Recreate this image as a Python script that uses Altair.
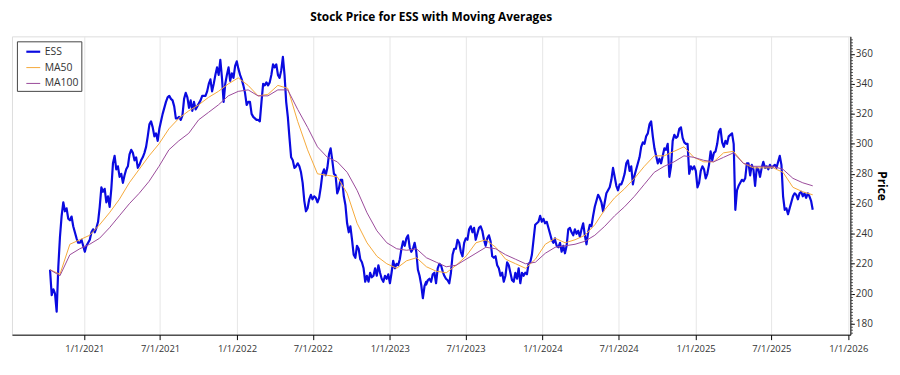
import altair as alt
import pandas as pd

# ---------------- data ----------------
# ESS closing price, in six consecutive stretches; each stretch is evenly spaced in time
ess_seg_dates = [
    ("2020-10-11", "2021-07-23"),
    ("2021-07-23", "2022-05-26"),
    ("2022-05-26", "2023-03-29"),
    ("2023-03-29", "2024-01-31"),
    ("2024-01-31", "2024-12-05"),
    ("2024-12-05", "2025-10-08"),
]
ess_a = [216, 199, 203, 200, 188, 218, 238, 252, 261, 255,
         257, 250, 249, 251.5, 245, 241, 237, 234, 234, 236,
         232, 228, 232, 234, 236, 241, 243, 241, 244, 248,
         258, 271, 268, 270, 261, 265, 258, 270, 287, 292,
         283, 285, 278, 280, 274, 279, 283, 285, 293, 296,
         294, 289, 291, 284, 286, 289, 291, 294, 298, 305,
         313, 315, 311, 305, 307, 302, 310, 315, 320, 324,
         328, 331, 332]
ess_b = [332, 330, 329, 325, 317, 317, 318, 316, 319, 330,
         334, 331, 324, 329, 322, 328, 323, 325, 327, 329,
         332, 332, 332, 335, 340, 343, 335, 340, 346, 351,
         346, 356, 344, 328, 340, 346, 351, 342, 347, 344,
         352, 355, 350, 346, 343, 339, 334, 326, 328, 328,
         320, 318, 317, 316, 316, 315, 328, 340, 339, 341,
         339, 341, 346, 353, 351, 353, 346, 344, 349, 358,
         346, 328, 318, 304, 291, 289, 284, 285, 287]
ess_c = [287, 285, 281, 274, 262, 255, 257, 263, 266, 263,
         265, 264, 261, 264, 271, 280, 283, 279, 284, 293,
         297, 289, 280, 279, 267, 270, 276, 276, 265, 259,
         247, 241, 245, 236, 226, 224, 232, 230, 223, 221,
         217, 208, 212, 208, 214, 211, 212, 217, 212, 219,
         214, 210, 208, 212, 210, 213, 207, 214, 222, 217,
         220, 219, 223, 230, 235, 232, 237, 239, 231, 228,
         230, 234, 228, 216, 212, 206, 197, 205, 208]
ess_d = [206, 209, 210, 208, 213, 214, 207, 217, 220, 219,
         215, 212, 210, 209, 207, 214, 226, 230, 230, 236,
         234, 228, 225, 234, 237, 236, 243, 245, 241, 244,
         236, 240, 244, 245, 242, 236, 232, 237, 239, 235,
         225, 224, 225, 219, 217, 212, 214, 208, 212, 221,
         219, 214, 209, 208, 214, 210, 217, 207, 214, 212,
         214, 213, 220, 221, 226, 236, 246, 247, 248, 252,
         248, 250, 247, 248, 244, 240, 236, 234, 237]
ess_e = [236, 232, 231, 234, 228, 232, 227, 232, 243, 244,
         241, 239, 243, 240, 242, 238, 243, 247, 239, 233,
         241, 246, 245, 252, 258, 262, 266, 264, 261, 255,
         261, 267, 269, 271, 276, 284, 278, 272, 269, 273,
         273, 276, 280, 287, 289, 282, 285, 273, 279, 283,
         287, 291, 298, 301, 300, 305, 307, 313, 315, 305,
         297, 292, 287, 290, 287, 292, 297, 296, 300, 278,
         285, 302, 306, 304, 305, 310, 311, 304, 301]
ess_f = [301, 300, 300, 280, 285, 283, 285, 282, 271, 274,
         282, 285, 283, 277, 280, 286, 295, 289, 294, 295,
         300, 308, 310, 301, 298, 302, 300, 305, 306, 307,
         300, 256, 269, 272, 274, 276, 275, 277, 287, 287,
         279, 286, 283, 272, 284, 283, 278, 284, 288, 284,
         285, 283, 286, 284, 285, 286, 284, 288, 292, 286,
         265, 256, 257, 253, 257, 261, 265, 267, 266, 263,
         267, 268, 265, 267, 264, 267, 265, 262, 256]
ess_segments = [ess_a, ess_b, ess_c, ess_d, ess_e, ess_f]

# moving averages, evenly spaced from first to last trading day shown
ma_start, ma_end = "2020-10-11", "2025-10-08"
ma50 = [216, 213, 233, 236, 239, 246, 254, 263, 274, 283,
        292, 300, 310, 317, 322, 326, 331, 335, 340, 344,
        339, 332, 333, 339, 337, 315, 296, 280, 279, 278,
        267, 247, 234, 225, 220, 217, 222, 224, 218, 215,
        214, 219, 225, 234, 236, 231, 223, 220, 217, 223,
        233, 237, 234, 236, 239, 246, 256, 264, 270, 277,
        285, 292, 292, 295, 298, 291, 288, 288, 294, 295,
        287, 284, 284, 284, 281, 271, 268, 266]
ma100 = [216, 212, 226, 230, 233, 237, 244, 252, 260, 267,
         275, 285, 296, 302, 307, 316, 321, 326, 332, 335,
         336, 332, 332, 336, 336, 323, 311, 298, 291, 288,
         281, 269, 254, 242, 234, 230, 229, 230, 224, 221,
         218, 219, 223, 227, 231, 230, 226, 223, 220, 221,
         227, 231, 232, 233, 235, 239, 245, 252, 258, 265,
         273, 281, 285, 288, 292, 291, 289, 288, 291, 294,
         287, 285, 285, 285, 283, 277, 274, 272]

series_names = ["ESS", "MA50", "MA100"]
series_colors = ["#0a0ae0", "#f5a93a", "#9a4a9a"]
series_widths = [2.2, 1, 1]

tick_dates = [(2021, 1), (2021, 7), (2022, 1), (2022, 7), (2023, 1), (2023, 7),
              (2024, 1), (2024, 7), (2025, 1), (2025, 7), (2026, 1)]
y_ticks = [180, 200, 220, 240, 260, 280, 300, 320, 340, 360]
y_minor_ticks = list(range(174, 372, 2))

# ---------------- build table ----------------
frames = []
for (s, e), vals in zip(ess_seg_dates, ess_segments):
    frames.append(pd.DataFrame({"Date": pd.date_range(s, e, periods=len(vals)),
                                "Price": vals, "Series": "ESS"}))
for name, vals in (("MA50", ma50), ("MA100", ma100)):
    frames.append(pd.DataFrame({"Date": pd.date_range(ma_start, ma_end, periods=len(vals)),
                                "Price": vals, "Series": name}))
df = pd.concat(frames, ignore_index=True)

FONT = "Segoe UI, Open Sans, sans-serif"

x_scale = alt.Scale(domain=[alt.DateTime(year=2020, month=7, date=12),
                            alt.DateTime(year=2026, month=1, date=6)])
y_domain = [172.7, 371.7]

x_axis = alt.Axis(
    values=[alt.DateTime(year=y, month=m, date=1) for y, m in tick_dates],
    format="%-m/%-d/%Y", title=None, grid=True, gridColor="#e6e6e6",
    tickSize=5, tickColor="#000", domainColor="#000", labelPadding=4,
    labelFontSize=9.5, labelColor="#333", labelFont=FONT, labelFlush=False,
)
y_axis = alt.Axis(
    orient="right", values=y_ticks, title="Price", grid=False,
    tickSize=4, tickColor="#000", domainColor="#000", labelPadding=1,
    labelFontSize=10, labelColor="#333", labelFont=FONT,
    titleFont=FONT, titleFontSize=12, titleFontWeight="bold", titleColor="#000",
    titleAngle=90, titlePadding=2,
)
y_minor_axis = alt.Axis(
    orient="right", values=y_minor_ticks, title=None, grid=False, labels=False,
    domain=False, tickSize=2, tickColor="#444",
)

legend_kw = dict(orient="none", legendX=5, legendY=5, title=None,
                 symbolType="stroke", symbolSize=196, strokeColor="#444",
                 fillColor="white", padding=2, symbolOffset=6, labelOffset=3,
                 rowPadding=3, labelFontSize=10.5, labelColor="#333", labelFont=FONT)

lines = alt.Chart(df).mark_line(strokeJoin="round").encode(
    x=alt.X("Date:T", axis=x_axis, scale=x_scale),
    y=alt.Y("Price:Q", axis=y_axis,
            scale=alt.Scale(domain=y_domain, nice=False, zero=False)),
    color=alt.Color("Series:N",
                    scale=alt.Scale(domain=series_names, range=series_colors),
                    legend=alt.Legend(**legend_kw)),
    strokeWidth=alt.StrokeWidth("Series:N",
                                scale=alt.Scale(type="ordinal", domain=series_names,
                                                range=series_widths),
                                legend=alt.Legend(**legend_kw)),
    order=alt.Order("Date:T"),
)

minor = alt.Chart(df).mark_point(opacity=0, size=1).encode(
    x=alt.X("Date:T", scale=x_scale, axis=x_axis),
    y=alt.Y("Price:Q", axis=y_minor_axis,
            scale=alt.Scale(domain=y_domain, nice=False, zero=False)),
)

chart = alt.layer(lines, minor).resolve_scale(y="independent").properties(
    width=846, height=301,
    title=alt.TitleParams("Stock Price for ESS with Moving Averages", fontSize=12,
                          fontWeight="bold", font=FONT, anchor="middle", offset=12,
                          color="#000"),
    autosize=alt.AutoSizeParams(type="none"),
    padding={"left": 4, "top": 27, "right": 42, "bottom": 30},
).configure_view(
    stroke="#666", strokeWidth=1
).configure(background="white")

chart.save("out.html", embed_options={"renderer": "svg", "actions": False})
